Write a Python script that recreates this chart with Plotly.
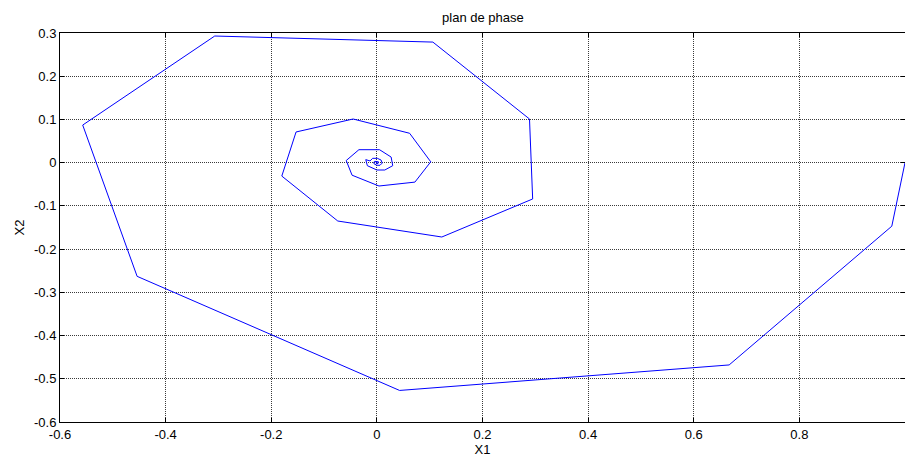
import plotly.graph_objects as go

# Phase-plane trajectory (X1, X2) of a damped second-order system
x1 = [1.0, 0.975, 0.667, 0.043, -0.454, -0.557, -0.307, 0.106, 0.289, 0.295,
      0.123, -0.074, -0.180, -0.153, -0.045, 0.062, 0.102, 0.072, 0.004, -0.047,
      -0.058, -0.034, 0.005, 0.027, 0.030, 0.015, 0.000, -0.018, -0.021,
      -0.013, -0.008, 0.001, 0.008, 0.010, 0.006, 0.000, -0.005, -0.006,
      -0.004, 0.000, 0.003, 0.003, 0.002, 0.000, -0.002, -0.002, -0.001, 0.000, 0.001, 0.000]
x2 = [0.0, -0.147, -0.468, -0.527, -0.263, 0.087, 0.293, 0.279, 0.101, -0.084,
      -0.172, -0.135, -0.031, 0.071, 0.101, 0.068, 0.002, -0.045, -0.054, -0.029,
      0.005, 0.030, 0.030, 0.013, -0.007, -0.017, -0.017, -0.007, 0.007,
      0.004, 0.010, 0.010, 0.006, -0.001, -0.006, -0.006, -0.003, 0.001,
      0.003, 0.003, 0.002, 0.000, -0.002, -0.002, -0.001, 0.000, 0.001, 0.001, 0.000, 0.000]

x_ticks = [-0.6, -0.4, -0.2, 0, 0.2, 0.4, 0.6, 0.8, 1.0]
x_tick_labels = ["-0.6", "-0.4", "-0.2", "0", "0.2", "0.4", "0.6", "0.8", "1"]
y_ticks = [-0.6, -0.5, -0.4, -0.3, -0.2, -0.1, 0, 0.1, 0.2, 0.3]
y_tick_labels = ["-0.6", "-0.5", "-0.4", "-0.3", "-0.2", "-0.1", "0", "0.1", "0.2", "0.3"]

font_family = "Liberation Sans, Arial, sans-serif"

fig = go.Figure()
fig.add_trace(go.Scatter(
    x=x1, y=x2, mode="lines",
    line=dict(color="#0000FF", width=1),
    showlegend=False,
))

axis_common = dict(
    showline=True, linecolor="black", linewidth=1, mirror="ticks",
    ticks="inside", ticklen=4, tickcolor="black",
    showgrid=True, gridcolor="#3a3a3a", gridwidth=1, griddash="1px,1px",
    zeroline=False,
    tickfont=dict(family=font_family, size=13, color="black"),
)

fig.update_layout(
    width=905, height=461,
    margin=dict(l=60, r=0, t=33, b=39),
    paper_bgcolor="white", plot_bgcolor="white",
    font=dict(family=font_family, size=13, color="black"),
    title=dict(text="plan de phase", x=0.5336, xanchor="center",
               y=0.963, yanchor="middle",
               font=dict(family=font_family, size=13, color="black")),
    xaxis=dict(range=[-0.6, 1.0], tickvals=x_ticks, ticktext=x_tick_labels,
               title=dict(text="X1", standoff=4, font=dict(size=13)),
               **axis_common),
    yaxis=dict(range=[-0.6, 0.3], tickvals=y_ticks, ticktext=y_tick_labels,
               title=dict(text="X2", standoff=6, font=dict(size=13)),
               **axis_common),
)

fig.write_html("out.html")
